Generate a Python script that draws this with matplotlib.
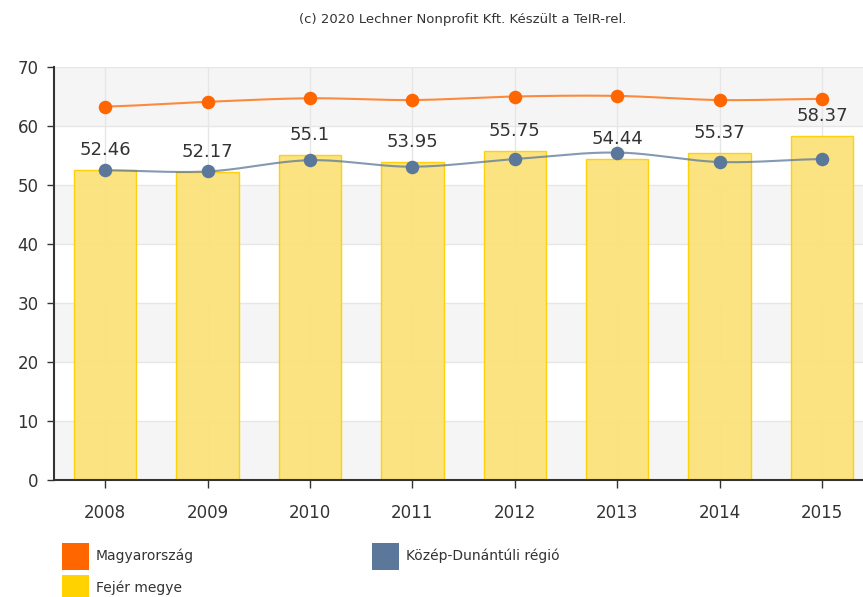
import numpy as np
import matplotlib
matplotlib.use("Agg")
import matplotlib.pyplot as plt
from matplotlib.patches import Rectangle

years = ["2008", "2009", "2010", "2011", "2012", "2013", "2014", "2015"]
fejer = [52.46, 52.17, 55.1, 53.95, 55.75, 54.44, 55.37, 58.37]
magyarorszag = [63.3, 64.1, 64.7, 64.4, 65.0, 65.1, 64.4, 64.6]
kozep_dunantul = [52.5, 52.3, 54.2, 53.1, 54.4, 55.5, 53.9, 54.4]
yticks = [0, 10, 20, 30, 40, 50, 60, 70]

C_OR = "#ff6600"
C_BL = "#5b7799"
C_BAR = "#fbe27a"
C_BAREDGE = "#ffd000"


def smooth(xs, ys, n=30):
    xs = np.asarray(xs, float); ys = np.asarray(ys, float)
    px = np.concatenate([[2 * xs[0] - xs[1]], xs, [2 * xs[-1] - xs[-2]]])
    py = np.concatenate([[ys[0]], ys, [ys[-1]]])
    ox, oy = [], []
    for i in range(1, len(px) - 2):
        t = np.linspace(0, 1, n)
        p0, p1, p2, p3 = py[i - 1], py[i], py[i + 1], py[i + 2]
        y = 0.5 * ((2 * p1) + (-p0 + p2) * t + (2 * p0 - 5 * p1 + 4 * p2 - p3) * t ** 2
                   + (-p0 + 3 * p1 - 3 * p2 + p3) * t ** 3)
        x = px[i] + (px[i + 1] - px[i]) * t
        ox.extend(x); oy.extend(y)
    return np.array(ox), np.array(oy)


fig = plt.figure(figsize=(8.63, 5.97), dpi=100)
W, H = 863, 597
ax = fig.add_axes([54 / W, (H - 480) / H, (863 - 54) / W, (480 - 67) / H])
x = np.arange(len(years))
ax.set_xlim(-0.5, 7.4)
ax.set_ylim(0, 70)

# alternating bands
for i, lo in enumerate(range(0, 70, 10)):
    if i % 2 == 0:
        ax.axhspan(lo, lo + 10, color="#f5f5f5", zorder=0, lw=0)
for yv in yticks[1:]:
    ax.axhline(yv, color="#e6e6e6", lw=1, zorder=0.5)
for xv in x:
    ax.axvline(xv, color="#e6e6e6", lw=1, zorder=0.5)

ax.bar(x, fejer, width=0.61, color=C_BAR, edgecolor=C_BAREDGE, linewidth=1, alpha=0.95, zorder=2)
for xi, v in zip(x, fejer):
    ax.annotate(f"{v:g}", (xi, v), xytext=(0, 8), textcoords="offset points",
                ha="center", va="bottom", fontsize=13, color="#333333", zorder=5)

sx, sy = smooth(x, magyarorszag)
ax.plot(sx, sy, color=C_OR, lw=1.5, alpha=0.75, zorder=3)
ax.scatter(x, magyarorszag, s=95, color=C_OR, zorder=4, lw=0)

sx, sy = smooth(x, kozep_dunantul)
ax.plot(sx, sy, color=C_BL, lw=1.5, alpha=0.75, zorder=3)
ax.scatter(x, kozep_dunantul, s=95, color=C_BL, zorder=4, lw=0)

ax.set_yticks(yticks)
ax.set_yticklabels([str(t) for t in yticks], fontsize=12, color="#333333")
ax.set_xticks(x)
ax.set_xticklabels(years, fontsize=12, color="#333333")
ax.tick_params(axis="y", length=5, width=1, color="#333333", pad=6)
ax.tick_params(axis="x", length=6, width=1, color="#333333", pad=11)
for s in ["top", "right"]:
    ax.spines[s].set_visible(False)
ax.spines["left"].set_color("#333333")
ax.spines["bottom"].set_color("#333333")
ax.spines["left"].set_linewidth(1.5)
ax.spines["bottom"].set_linewidth(1.5)

fig.text(463 / W, 1 - 20 / H, "(c) 2020 Lechner Nonprofit Kft. Készült a TeIR-rel.",
         ha="center", va="center", fontsize=9.5, color="#333333")

legend = [("Magyarország", C_OR, 62, 543), ("Közép-Dunántúli régió", C_BL, 372, 543),
          ("Fejér megye", "#ffd200", 62, 575)]
for label, col, lx, ly in legend:
    fig.patches.append(Rectangle((lx / W, 1 - (ly + 27) / H), 27 / W, 27 / H,
                                 transform=fig.transFigure, facecolor=col, edgecolor="none"))
    fig.text((lx + 34) / W, 1 - (ly + 13) / H, label, ha="left", va="center",
             fontsize=10, color="#333333")

fig.savefig("out.png", dpi=100)
